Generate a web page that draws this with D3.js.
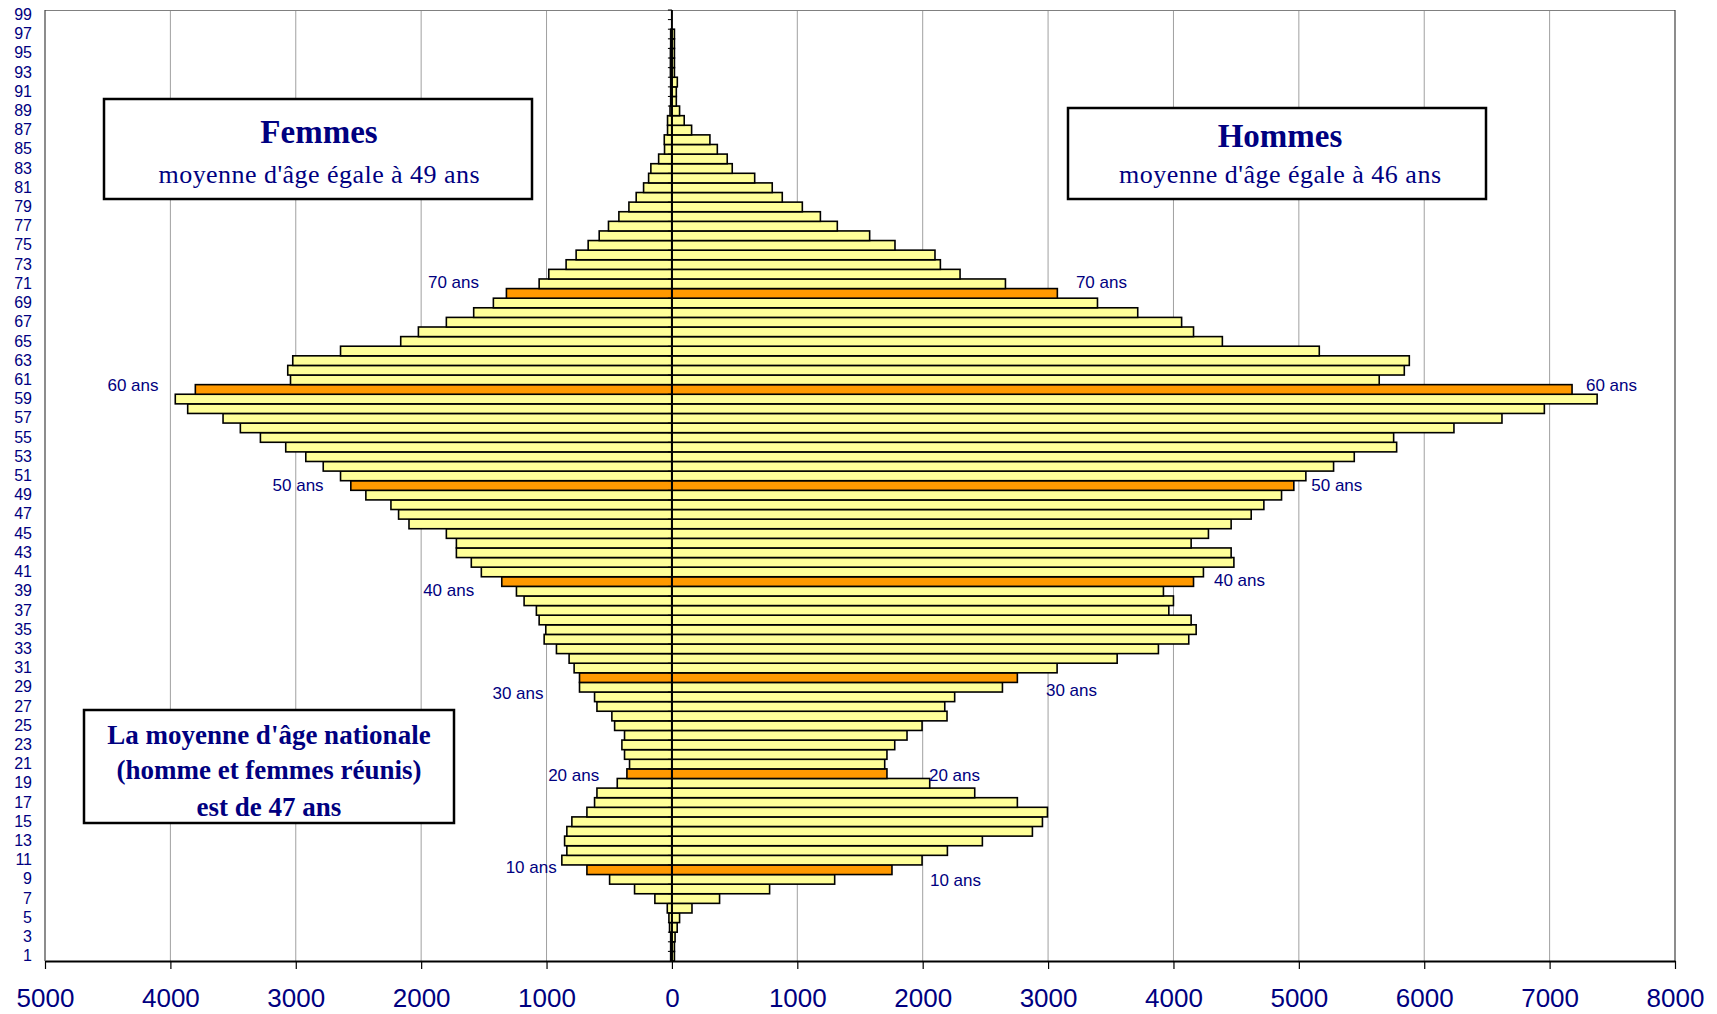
<!DOCTYPE html>
<html>
<head>
<meta charset="utf-8">
<script src="https://cdn.jsdelivr.net/npm/d3@7"></script>
<style>
  html, body { margin: 0; padding: 0; background: #fff; }
  svg { display: block; }
</style>
</head>
<body>
<div id="chart"></div>
<script>
// ages 1..99 (bottom to top)
const ages = [
  1, 2, 3, 4, 5, 6, 7, 8, 9, 10, 11, 12, 13, 14, 15, 16, 17, 18, 19, 20,
  21, 22, 23, 24, 25, 26, 27, 28, 29, 30, 31, 32, 33, 34, 35, 36, 37, 38, 39, 40,
  41, 42, 43, 44, 45, 46, 47, 48, 49, 50, 51, 52, 53, 54, 55, 56, 57, 58, 59, 60,
  61, 62, 63, 64, 65, 66, 67, 68, 69, 70, 71, 72, 73, 74, 75, 76, 77, 78, 79, 80,
  81, 82, 83, 84, 85, 86, 87, 88, 89, 90, 91, 92, 93, 94, 95, 96, 97, 98, 99
];
// women, age 1..99
const femmes = [
  10, 10, 10, 19, 24, 37, 136, 298, 497, 678, 878, 838, 856, 838, 798, 678, 617, 598, 436, 359,
  338, 378, 399, 378, 457, 479, 598, 617, 737, 737, 780, 820, 921, 1019, 1006, 1059, 1081, 1179, 1240, 1357,
  1520, 1600, 1719, 1719, 1799, 2097, 2180, 2241, 2441, 2561, 2643, 2781, 2920, 3080, 3282, 3442, 3580, 3862, 3961, 3801,
  3042, 3064, 3024, 2643, 2163, 2022, 1799, 1581, 1424, 1320, 1059, 982, 844, 764, 668, 580, 506, 423, 343, 285,
  226, 186, 168, 106, 59, 61, 35, 35, 15, 10, 10, 10, 12, 12, 12, 10, 10, 0, 0
];
// men, age 1..99
const hommes = [
  20, 20, 25, 42, 61, 160, 380, 779, 1298, 1755, 1995, 2197, 2476, 2875, 2955, 2995, 2755, 2415, 2056, 1715,
  1697, 1715, 1777, 1875, 1995, 2194, 2176, 2255, 2636, 2755, 3072, 3551, 3880, 4122, 4181, 4141, 3963, 4000, 3920, 4160,
  4239, 4482, 4460, 4141, 4279, 4460, 4620, 4721, 4862, 4960, 5056, 5277, 5442, 5780, 5756, 6237, 6620, 6958, 7379, 7179,
  5641, 5841, 5881, 5163, 4390, 4160, 4065, 3715, 3394, 3074, 2660, 2298, 2141, 2098, 1779, 1577, 1319, 1184, 1040, 880,
  800, 660, 481, 441, 362, 303, 157, 98, 61, 35, 35, 43, 20, 20, 20, 20, 20, 0, 0
];
const highlightAges = [10, 20, 30, 40, 50, 60, 70];
const xTicks = [-5000, -4000, -3000, -2000, -1000, 0, 1000, 2000, 3000, 4000, 5000, 6000, 7000, 8000];
const yTickLabels = [1, 3, 5, 7, 9, 11, 13, 15, 17, 19, 21, 23, 25, 27, 29, 31, 33, 35, 37, 39, 41, 43, 45, 47, 49,
  51, 53, 55, 57, 59, 61, 63, 65, 67, 69, 71, 73, 75, 77, 79, 81, 83, 85, 87, 89, 91, 93, 95, 97, 99];

// "NN ans" annotations (value where text starts, age where the baseline sits)
const annText = ["70 ans", "60 ans", "50 ans", "40 ans", "30 ans", "20 ans", "10 ans"];
const annFemX = [-1946, -4502, -3185, -1984, -1431, -987, -1326];
const annFemAge = [70.53, 59.84, 49.43, 38.53, 27.77, 19.27, 9.63];
const annHomX = [3222, 7290, 5099, 4323, 2983, 2050, 2058];
const annHomAge = [70.53, 59.84, 49.43, 39.57, 28.09, 19.27, 8.34];

const W = 1717, H = 1014;
const plotL = 45, plotR = 1675, plotT = 10, plotB = 961;
const navy = "#000080";
const sans = "'Liberation Sans', Arial, sans-serif";
const serif = "'Liberation Serif', 'Times New Roman', serif";

const svg = d3.select("#chart").append("svg")
  .attr("width", W)
  .attr("height", H);

const x = d3.scaleLinear().domain([-5000, 8000]).range([plotL, plotR]);
const y = d3.scaleBand().domain(ages.slice().reverse()).range([plotT, plotB]).padding(0);
const ageY = d3.scaleLinear().domain([99.5, 0.5]).range([plotT, plotB]);

// gridlines
svg.append("g").selectAll("line")
  .data(xTicks.filter(d => d > -5000 && d < 8000 && d !== 0))
  .enter().append("line")
  .attr("x1", d => x(d)).attr("x2", d => x(d))
  .attr("y1", plotT).attr("y2", plotB)
  .attr("stroke", "#a0a0a0").attr("stroke-width", 1);

// plot border
svg.append("line").attr("x1", plotL).attr("x2", plotR).attr("y1", plotT + 0.5).attr("y2", plotT + 0.5)
  .attr("stroke", "#808080").attr("stroke-width", 1);
svg.append("line").attr("x1", plotR).attr("x2", plotR).attr("y1", plotT).attr("y2", plotB)
  .attr("stroke", "#404040").attr("stroke-width", 1.2);
svg.append("line").attr("x1", plotL).attr("x2", plotL).attr("y1", plotT).attr("y2", plotB)
  .attr("stroke", "#404040").attr("stroke-width", 1.2);

const rows = ages.map((a, i) => ({ age: a, f: femmes[i], h: hommes[i] }));
const fill = d => highlightAges.includes(d.age) ? "#FF9900" : "#FFFF99";

// women bars (left)
svg.append("g").selectAll("rect")
  .data(rows)
  .enter().append("rect")
  .attr("x", d => x(-d.f))
  .attr("y", d => y(d.age))
  .attr("width", d => x(0) - x(-d.f))
  .attr("height", y.bandwidth())
  .attr("fill", fill)
  .attr("stroke", "#000")
  .attr("stroke-width", 1.6);

// men bars (right)
svg.append("g").selectAll("rect")
  .data(rows)
  .enter().append("rect")
  .attr("x", x(0))
  .attr("y", d => y(d.age))
  .attr("width", d => x(d.h) - x(0))
  .attr("height", y.bandwidth())
  .attr("fill", fill)
  .attr("stroke", "#000")
  .attr("stroke-width", 1.6);

// centre axis with category ticks
svg.append("line")
  .attr("x1", x(0)).attr("x2", x(0)).attr("y1", plotT).attr("y2", plotB)
  .attr("stroke", "#000").attr("stroke-width", 2);
svg.append("g").selectAll("line")
  .data(ages)
  .enter().append("line")
  .attr("x1", x(0) - 4).attr("x2", x(0))
  .attr("y1", d => y(d)).attr("y2", d => y(d))
  .attr("stroke", "#000").attr("stroke-width", 1);

// y labels on the left
const yAxis = svg.append("g")
  .attr("transform", `translate(${plotL},0)`)
  .call(d3.axisLeft(y).tickValues(yTickLabels).tickSize(0).tickPadding(13));
yAxis.select(".domain").remove();
yAxis.selectAll("text")
  .attr("fill", navy)
  .style("font-family", sans)
  .style("font-size", "16px");

// x axis
const xAxis = svg.append("g")
  .attr("transform", `translate(0,${plotB})`)
  .call(d3.axisBottom(x).tickValues(xTicks).tickFormat(d => Math.abs(d)).tickSize(8).tickSizeOuter(0).tickPadding(20));
xAxis.select(".domain").attr("stroke", "#000").attr("stroke-width", 2);
xAxis.selectAll(".tick line").attr("stroke", "#000").attr("stroke-width", 1.2);
xAxis.selectAll("text")
  .attr("fill", navy)
  .style("font-family", sans)
  .style("font-size", "26px");

// "NN ans" annotations
const ann = svg.append("g")
  .style("font-family", sans)
  .style("font-size", "17px")
  .attr("fill", navy);
annText.forEach((t, i) => {
  ann.append("text").attr("x", x(annFemX[i])).attr("y", ageY(annFemAge[i])).text(t);
  ann.append("text").attr("x", x(annHomX[i])).attr("y", ageY(annHomAge[i])).text(t);
});

// text boxes
function box(x0, y0, w, h) {
  svg.append("rect")
    .attr("x", x0).attr("y", y0).attr("width", w).attr("height", h)
    .attr("fill", "#fff").attr("stroke", "#000").attr("stroke-width", 2.5);
}

box(104, 99, 428, 100);
svg.append("text").attr("x", 319).attr("y", 143).attr("text-anchor", "middle")
  .style("font-family", serif).style("font-size", "33px").style("font-weight", "bold")
  .attr("fill", navy).text("Femmes");
svg.append("text").attr("x", 319).attr("y", 183).attr("text-anchor", "middle")
  .style("font-family", serif).style("font-size", "26px")
  .attr("textLength", 321).attr("lengthAdjust", "spacing")
  .attr("fill", navy).text("moyenne d'âge égale à 49 ans");

box(1068, 108, 418, 91);
svg.append("text").attr("x", 1280).attr("y", 147).attr("text-anchor", "middle")
  .style("font-family", serif).style("font-size", "33px").style("font-weight", "bold")
  .attr("fill", navy).text("Hommes");
svg.append("text").attr("x", 1280).attr("y", 183).attr("text-anchor", "middle")
  .style("font-family", serif).style("font-size", "26px")
  .attr("textLength", 322).attr("lengthAdjust", "spacing")
  .attr("fill", navy).text("moyenne d'âge égale à 46 ans");

box(84, 710, 370, 113);
const natLines = ["La moyenne d'âge nationale", "(homme et femmes réunis)", "est de 47 ans"];
const natY = [744, 779, 816];
natLines.forEach((t, i) => {
  svg.append("text").attr("x", 269).attr("y", natY[i]).attr("text-anchor", "middle")
    .style("font-family", serif).style("font-size", "27px").style("font-weight", "bold")
    .attr("fill", navy).text(t);
});
</script>
</body>
</html>
